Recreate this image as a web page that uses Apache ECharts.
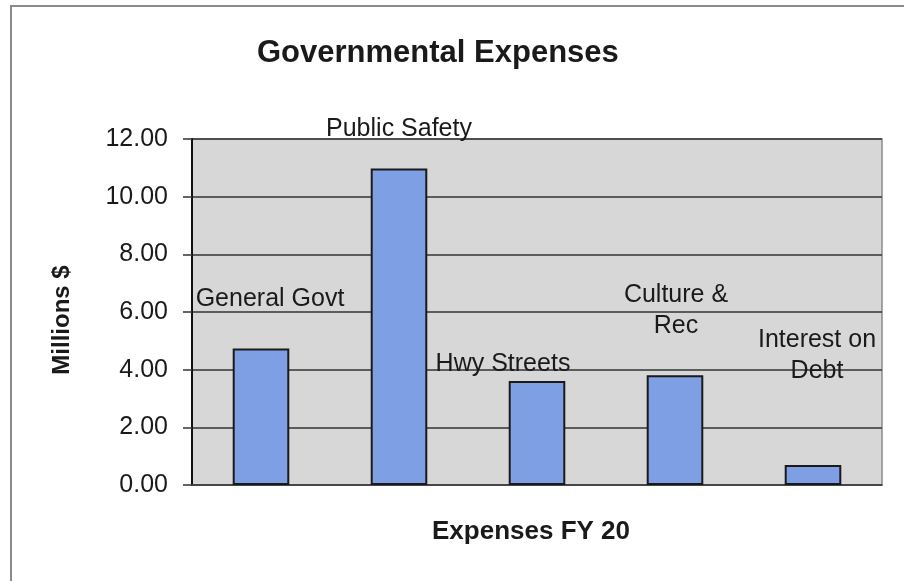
<!DOCTYPE html>
<html>
<head>
<meta charset="utf-8">
<script src="https://cdn.jsdelivr.net/npm/echarts@6/dist/echarts.min.js"></script>
<style>
  html, body { margin: 0; padding: 0; background: #fff; }
  #frame {
    position: absolute; left: 10px; top: 5px; width: 894px; height: 576px;
    border-top: 2px solid #8a8a8a; border-left: 2px solid #8a8a8a;
  }
  #chart { position: absolute; left: 0; top: 0; width: 904px; height: 581px; }
</style>
</head>
<body>
<div id="frame"></div>
<div id="chart"></div>
<script>
// data (millions of dollars)
const categories = ['General Govt', 'Public Safety', 'Hwy Streets', 'Culture &\nRec', 'Interest on\nDebt'];
const expenses = [4.73, 10.98, 3.61, 3.81, 0.69];
const yTicks = [0, 2, 4, 6, 8, 10, 12];

// where Excel dropped each data label relative to its bar
const labelOffsets = [[9, -29], [0, -19], [-34, 4], [1, -29], [4, -73]];

const font = 'Liberation Sans, Arial, sans-serif';

let myChart = echarts.init(document.getElementById('chart'));

myChart.setOption({
  animation: false,
  title: {
    text: 'Governmental Expenses',
    left: 252,
    top: 33,
    textStyle: { fontFamily: font, fontSize: 31, fontWeight: 'bold', color: '#1a1a1a' }
  },
  grid: {
    left: 192, right: 22, top: 139, bottom: 96,
    show: true,
    backgroundColor: '#d7d7d7',
    borderColor: '#8a8a8a',
    borderWidth: 1.5
  },
  xAxis: {
    type: 'category',
    data: categories,
    name: 'Expenses FY 20',
    nameLocation: 'middle',
    nameGap: 34,
    nameTextStyle: { fontFamily: font, fontSize: 26, fontWeight: 'bold', color: '#1a1a1a', padding: [0, 12, 0, 0] },
    axisLine: { lineStyle: { color: '#444', width: 1.5 } },
    axisTick: { show: false },
    axisLabel: { show: false }
  },
  yAxis: {
    type: 'value',
    min: yTicks[0],
    max: yTicks[yTicks.length - 1],
    interval: yTicks[1] - yTicks[0],
    name: 'Millions $',
    nameLocation: 'middle',
    nameGap: 118,
    nameRotate: 90,
    nameTextStyle: { fontFamily: font, fontSize: 24, fontWeight: 'bold', color: '#1a1a1a', padding: [0, 16, 0, 0] },
    axisLine: { show: true, lineStyle: { color: '#111', width: 2 } },
    axisTick: { show: true, length: 9, lineStyle: { color: '#333', width: 1.5 } },
    axisLabel: {
      margin: 24,
      fontFamily: font,
      fontSize: 25,
      color: '#1a1a1a',
      formatter: v => v.toFixed(2)
    },
    splitLine: { lineStyle: { color: '#333', width: 1.5 } }
  },
  series: [
    {
      type: 'bar',
      barWidth: '41%',
      data: expenses.map((v, i) => ({
        value: v,
        label: { offset: labelOffsets[i] }
      })),
      itemStyle: { color: '#7f9fe4', borderColor: '#1a1a1a', borderWidth: 2 },
      label: {
        show: true,
        position: 'top',
        formatter: p => categories[p.dataIndex],
        fontFamily: font,
        fontSize: 25,
        lineHeight: 31,
        color: '#1a1a1a'
      }
    }
  ]
});
</script>
</body>
</html>
